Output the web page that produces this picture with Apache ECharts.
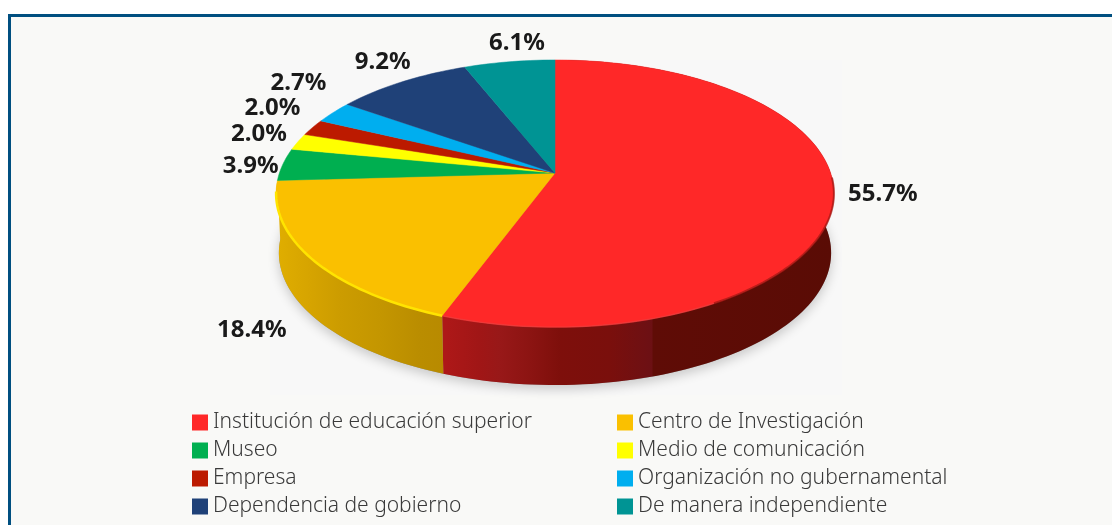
<!DOCTYPE html>
<html><head><meta charset="utf-8">
<style>html,body{margin:0;padding:0;background:#fff}#c{width:1112px;height:525px}</style>
<script src="https://cdn.jsdelivr.net/npm/echarts@6/dist/echarts.min.js"></script>
</head><body><div id="c"></div>
<script>
const categories = ['Institución de educación superior','Centro de Investigación','Museo','Medio de comunicación','Empresa','Organización no gubernamental','Dependencia de gobierno','De manera independiente'];
const values = [55.7,18.4,3.9,2.0,2.0,2.7,9.2,6.1];
const labels = ['55.7%','18.4%','3.9%','2.0%','2.0%','2.7%','9.2%','6.1%'];
const colors = ['#FF2828','#FAC000','#00AF50','#FFFF00','#BC1A00','#00AEEF','#1F4178','#009494'];
const labelOffsets = [[49,-3],[-59,72],[-32,2],[-39,-8],[-40,-19],[-35,-29],[-19,-20],[7.5,-19]];
const legendLeft = [0,2,4,6].map(i=>categories[i]);
const legendRight = [1,3,5,7].map(i=>categories[i]);

const geo = {cx:555, cy:173, R:275.6, k:130.4, p:0.1536, depth:59.5, shrink:0.99};
function project(deg, bottom){
  const t = deg*Math.PI/180, u = Math.sin(t), v = -Math.cos(t), s = 1/(1-geo.p*v);
  const f = bottom ? geo.shrink : 1, d = bottom ? geo.depth : 0;
  return [geo.cx + geo.R*u*s*f, geo.cy + d + geo.k*v*s*f];
}
function arc(a,b,bottom){
  const n = Math.max(2,Math.ceil(Math.abs(b-a)/1.5)), out=[];
  for(let j=0;j<=n;j++) out.push(project(a+(b-a)*j/n,bottom));
  return out;
}
const total = values.reduce((a,b)=>a+b,0);
const starts = values.map((_,i)=>values.slice(0,i).reduce((a,b)=>a+b,0)/total*360);
const grad = stops => ({type:'linear',x:276,y:0,x2:834,y2:0,global:true,
  colorStops:stops.map(s=>({offset:(s[0]-276)/558,color:s[1]}))});
const wallFills = [
  grad([[445,'#AE1818'],[480,'#A01616'],[500,'#981818'],[530,'#8C1412'],[560,'#7E0F0B'],[610,'#7A0F0C'],[640,'#701012'],[652,'#6C1014'],[653,'#5F0C06'],[834,'#5A0C05']]),
  grad([[276,'#E0AE00'],[310,'#D6A400'],[340,'#CC9C00'],[380,'#C49600'],[420,'#BA8D00'],[445,'#B88A00']])
];
const rimStroke = ['rgba(240,60,60,0.7)','#FFE400'];
const rimSpan = [[200.5,150],[200.5,262]];
const rimShade = [150,92];

function renderSlice(i){
  return function(params, api){
    const val = api.value(0), a = starts[i], b = a + val/total*360;
    const kids = [];
    if(i===0){
      const sil = arc(0,360,true);
      kids.push({type:'polygon',z2:0,shape:{points:sil},
        style:{fill:'#999',shadowBlur:12,shadowColor:'rgba(0,0,0,0.2)',shadowOffsetY:4}});
      kids.push({type:'polyline',z2:3,shape:{points:arc(rimShade[0],rimShade[1],false)},
        style:{fill:null,stroke:'rgba(165,24,20,0.75)',lineWidth:2}});
    }
    if(wallFills[i]){
      const top = arc(a,b,false), bot = arc(a,b,true).reverse();
      kids.push({type:'polygon',z2:1,shape:{points:top.concat(bot)},style:{fill:wallFills[i]}});
    }
    kids.push({type:'polygon',z2:2,shape:{points:[[geo.cx,geo.cy]].concat(arc(a,b,false))},
      style:{fill:colors[i],stroke:colors[i],lineWidth:0.5}});
    if(rimSpan[i]){
      kids.push({type:'polyline',z2:3,shape:{points:arc(rimSpan[i][0],rimSpan[i][1],false)},
        style:{fill:null,stroke:rimStroke[i],lineWidth:i===1?2.5:1.5}});
    }
    const m = project((a+b)/2,false);
    kids.push({type:'text',z2:4,style:{
      x:m[0]+labelOffsets[i][0],y:m[1]+labelOffsets[i][1],text:labels[i],
      fill:'#1a1a1a',align:'center',verticalAlign:'middle',
      font:'700 24px "Noto Sans"'}});
    return {type:'group',children:kids};
  };
}
const legendText = {fontFamily:'"Noto Sans"',fontWeight:300,fontSize:21,color:'#3a3a3a'};
const legendBase = {orient:'vertical',top:412,itemWidth:16,itemHeight:16,itemGap:7,selectedMode:false,
  icon:'rect',padding:0,textStyle:legendText};
const chart = echarts.init(document.getElementById('c'),null,{renderer:'canvas'});
chart.setOption({
  animation:false,
  backgroundColor:'#fff',
  graphic:[
    {type:'rect',z:-10,shape:{x:9.5,y:15.5,width:1200,height:600},
      style:{fill:'#F9F9F7',stroke:'#004F80',lineWidth:3},silent:true},
    {type:'rect',z:-9,shape:{x:270,y:60,width:572,height:335},style:{fill:'#F8F8F8'},silent:true}
  ],
  legend:[
    Object.assign({},legendBase,{left:192,data:legendLeft}),
    Object.assign({},legendBase,{left:617,data:legendRight})
  ],
  series:categories.map((name,i)=>({
    type:'custom',name,coordinateSystem:'none',silent:true,
    itemStyle:{color:colors[i]},
    renderItem:renderSlice(i),
    data:[[values[i]]]
  }))
});
</script></body></html>
